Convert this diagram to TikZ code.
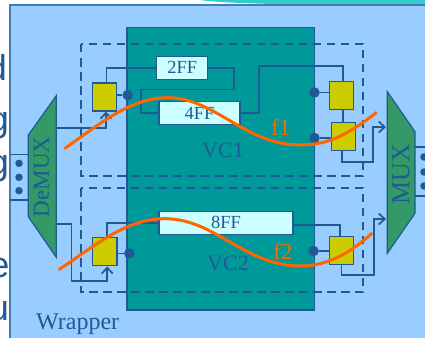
\documentclass[tikz,border=0pt]{standalone}
\usepackage{fontspec}
\setmainfont{Liberation Serif}
\setsansfont{Liberation Sans}
\usepackage{xcolor}
\usetikzlibrary{arrows.meta}
\definecolor{wirecol}{HTML}{1F5A96}
\definecolor{wrapcol}{HTML}{99CCFF}
\definecolor{vccol}{HTML}{009999}
\definecolor{regcol}{HTML}{CCCC00}
\definecolor{ffcol}{HTML}{CCFFFF}
\definecolor{muxcol}{HTML}{339966}
\definecolor{bandcol}{HTML}{33CCCC}
\definecolor{curvecol}{HTML}{FF6600}
\tikzset{
	wire/.style={draw=wirecol, line width=1.7pt},
	arrowwire/.style={wire, -{Straight Barb[length=6pt, width=11pt]}},
	dashbox/.style={draw=wirecol, line width=1.7pt, dash pattern=on 8.5pt off 5.5pt},
	reg/.style={draw=wirecol, fill=regcol, line width=1.2pt, minimum width=24.5pt, minimum height=28pt, inner sep=0pt},
	portdot/.style={circle, fill=wirecol, minimum size=10.5pt, inner sep=0pt},
	smalldot/.style={circle, fill=wirecol, minimum size=7.5pt, inner sep=0pt},
	ffbox/.style={draw=wirecol, fill=ffcol, line width=1.2pt, minimum height=23pt, inner sep=0pt, text=wirecol, font=\fontsize{18.5}{20}\selectfont},
	muxshape/.style={draw=wirecol, fill=muxcol, line width=1.2pt},
	label/.style={text=wirecol, inner sep=0pt, font=\fontsize{22}{24}\selectfont},
	flabel/.style={text=curvecol, inner sep=0pt, font=\fontsize{23}{25}\selectfont},
	freq/.style={draw=curvecol, line width=3pt},
	cutoff/.style={text=wirecol, inner sep=0pt, anchor=base east, font=\sffamily\fontsize{36}{38}\selectfont},
}
\begin{document}
\begin{tikzpicture}[x=1pt, y=-1pt]
	\useasboundingbox (0,0) rectangle (425,337);
	\fill[white] (0,0) rectangle (425,337);
	\node[cutoff] (t1) at (7,80) {d};
	\node[cutoff] (t2) at (9,131) {g};
	\node[cutoff] (t3) at (9,174) {g};
	\node[cutoff] (t4) at (9.5,277) {e};
	\node[cutoff] (t5) at (9,320) {u};
	\fill[bandcol] (200,0) .. controls (220,3) and (270,4) .. (320,5) -- (425,5) -- (425,0) -- cycle;
	\draw[draw=wirecol!70!wrapcol, fill=wrapcol, line width=1.2pt] (10,5) rectangle (427,339);
	\draw[draw=wirecol, fill=vccol, line width=1.2pt] (127,27.5) rectangle (314.5,310);
	\draw[dashbox] (81,44) rectangle (363,176);
	\draw[dashbox] (81,188) rectangle (363,292);

	\draw[muxshape] (28.3,135) -- (56.3,95.7) -- (56.3,257.3) -- (28.3,216.7) -- cycle;
	\draw[muxshape] (387.3,91.7) -- (415,131.7) -- (415,213.3) -- (387.3,253.3) -- cycle;
	\node[label, rotate=90, font=\fontsize{23}{25}\selectfont] (demux) at (41.5,177) {DeMUX};
	\node[label, rotate=90, font=\fontsize{26}{28}\selectfont] (mux) at (401,174) {MUX};
	\coordinate (dm0a) at (28.3,154.5);
	\coordinate (dm0b) at (28.3,200);
	\coordinate (in0a) at (10,154.5);
	\coordinate (in0b) at (10,200);
	\coordinate (dm1) at (56.3,128);
	\coordinate (dm2) at (56.3,223.7);
	\coordinate (mx1) at (386,127);
	\coordinate (mx2) at (386,219);
	\coordinate (mx0a) at (415,147);
	\coordinate (mx0b) at (415,196);
	\coordinate (out0a) at (425,147);
	\coordinate (out0b) at (425,196);

	\node[reg] (r1) at (104.4,97) {};
	\node[reg] (r2) at (341.5,95.3) {};
	\node[reg] (r3) at (343.5,136.5) {};
	\node[reg] (r4) at (104.7,251.8) {};
	\node[reg] (r5) at (341.5,250.3) {};
	\node[portdot] (p1) at (127.7,95) {};
	\node[portdot] (p2) at (314.5,92.5) {};
	\node[portdot] (p3) at (314.5,138) {};
	\node[portdot] (p4) at (129.3,253.5) {};
	\node[portdot] (p5) at (313.5,251) {};
	\node[ffbox, minimum width=51pt] (ff2) at (182.3,67.7) {2FF};
	\node[ffbox, minimum width=81pt] (ff4) at (199.5,113) {4FF};
	\node[ffbox, minimum width=134pt] (ff8) at (226,222.7) {8FF};

	\draw[wire] (in0a) -- (dm0a);
	\draw[wire] (in0b) -- (dm0b);
	\draw[wire] (mx0a) -- (out0a);
	\draw[wire] (mx0b) -- (out0b);
	\draw[wire] (r1.east |- p1) -- (p1);
	\draw[wire] (p2) -- (r2.west |- p2);
	\draw[wire] (p3) -- (r3.west |- p3);
	\draw[wire] (r4.east |- p4) -- (p4);
	\draw[wire] (p5) -- (r5.west |- p5);
	\draw[wire] ([xshift=2pt]r1.north) |- (ff2.west);
	\draw[wire] (ff2.east) -| (234,89.5) -| (141,113) -- (ff4.west);
	\draw[wire] (ff4.east) -| (259,66) -| ([xshift=1.5pt]r2.north);
	\draw[wire] ([xshift=1.5pt]r2.south) -- ([xshift=-0.5pt]r3.north);
	\draw[arrowwire] ([xshift=-1.5pt]r3.south) |- (373,162) |- (mx1);
	\draw[arrowwire] (dm1) -| ([xshift=1.5pt]r1.south);
	\draw[arrowwire] (dm2) -| (71.5,281) -| ([xshift=2.5pt]r4.south);
	\draw[wire] ([xshift=2.5pt]r4.north) |- (ff8.west);
	\draw[wire] ([yshift=-2.5pt]ff8.east) -| ([xshift=-1.5pt]r5.north);
	\draw[arrowwire] (r5.south) |- (374,275) |- (mx2);

	\foreach \i/\y in {1/163.3, 2/177.3, 3/190.7} {
		\node[smalldot] (ld\i) at (19,\y) {};
	}
	\foreach \i/\y in {1/157, 2/172, 3/186} {
		\node[smalldot] (rd\i) at (424,\y) {};
	}

	\node[label] (vc1) at (223,150) {VC1};
	\node[label] (vc2) at (228,263.5) {VC2};
	\node[flabel] (f1) at (281,127) {f1};
	\node[flabel] (f2) at (283,251) {f2};
	\node[label, anchor=base west, font=\fontsize{24}{26}\selectfont] (wrap) at (36,329) {Wrapper};

	\coordinate (c1) at (64.3,148.7);
	\coordinate (c2) at (168,97.7);
	\coordinate (c3) at (300,145);
	\coordinate (c4) at (376.7,112.3);
	\coordinate (c5) at (58.7,269.7);
	\coordinate (c6) at (165,218.7);
	\coordinate (c7) at (300,266);
	\coordinate (c8) at (372.3,233);
	\draw[freq] (c1) .. controls (100,124) and (130,97.7) .. (c2) .. controls (215,97.7) and (245,145) .. (c3) .. controls (330,145) and (350,133) .. (c4);
	\draw[freq] (c5) .. controls (95,246) and (125,218.7) .. (c6) .. controls (215,218.7) and (245,266) .. (c7) .. controls (328,266) and (350,253) .. (c8);
\end{tikzpicture}
\end{document}
